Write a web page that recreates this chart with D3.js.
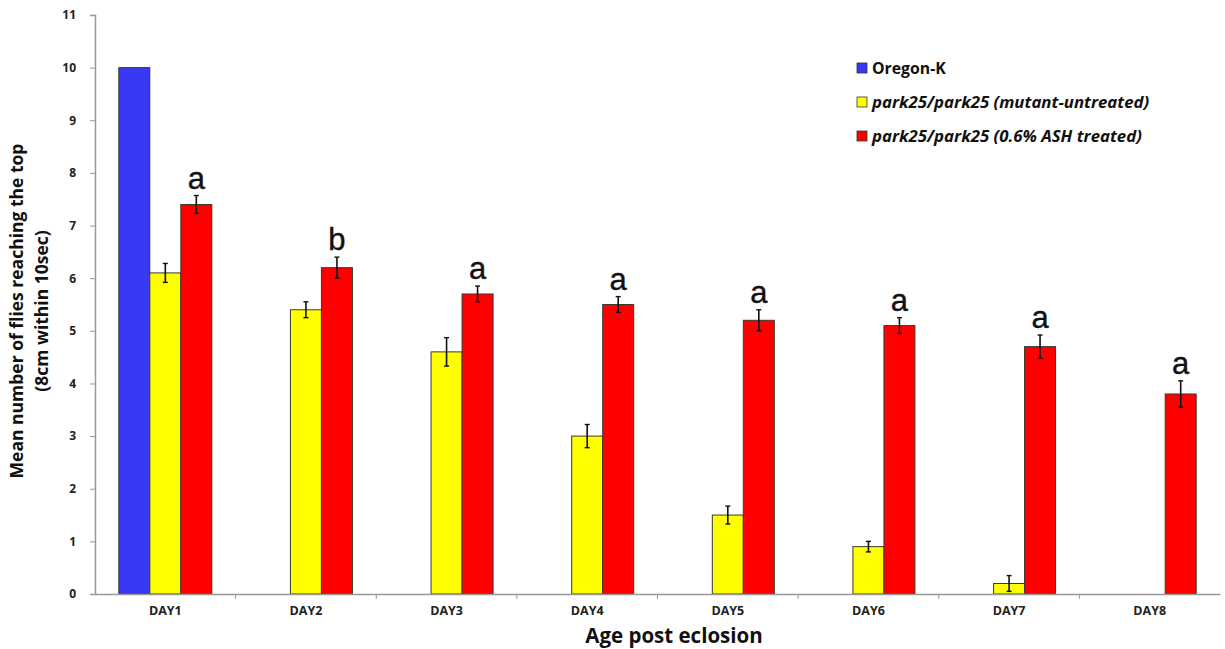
<!DOCTYPE html>
<html><head><meta charset="utf-8">
<script src="https://cdn.jsdelivr.net/npm/d3@7"></script>
<style>body{margin:0;background:#fff}svg{display:block}</style>
</head><body><svg id="c" width="1225" height="649"></svg>
<script>
const categories = ["DAY1","DAY2","DAY3","DAY4","DAY5","DAY6","DAY7","DAY8"];
const seriesNames = ["Oregon-K","park25/park25 (mutant-untreated)","park25/park25 (0.6% ASH treated)"];
const oregonK = [10, null, null, null, null, null, null, null];
const untreated = [6.1, 5.4, 4.6, 3.0, 1.5, 0.9, 0.2, null];
const untreatedErr = [0.18, 0.15, 0.27, 0.22, 0.17, 0.1, 0.15, null];
const treated = [7.4, 6.2, 5.7, 5.5, 5.2, 5.1, 4.7, 3.8];
const treatedErr = [0.17, 0.2, 0.15, 0.15, 0.2, 0.15, 0.22, 0.25];
const letters = ["a","b","a","a","a","a","a","a"];
const yTicks = [0,1,2,3,4,5,6,7,8,9,10,11];
const colors = ["#3838f5","#ffff00","#ff0000"];

const svg = d3.select("#c");
const m = {l:95, r:1220, t:15, b:594};
const x = d3.scaleBand().domain(categories).range([m.l, m.r]);
const y = d3.scaleLinear().domain([0,11]).range([m.b, m.t]);
const barW = 31;
const sub = d3.scaleBand().domain([0,1,2]).range([0, barW*3]);
const off = (x.bandwidth() - barW*3)/2;

const series = [
  {vals: oregonK, err: null},
  {vals: untreated, err: untreatedErr},
  {vals: treated, err: treatedErr}
];

series.forEach((s, si) => {
  const g = svg.append("g");
  categories.forEach((c, i) => {
    const v = s.vals[i];
    if (v == null) return;
    const bx = x(c) + off + sub(si);
    g.append("rect").attr("x", bx).attr("y", y(v)).attr("width", barW).attr("height", y(0)-y(v))
      .attr("fill", colors[si]).attr("stroke", "#3a3a2a").attr("stroke-width", 1);
    if (s.err && s.err[i] != null) {
      const cx = bx + barW/2, e = s.err[i];
      g.append("line").attr("x1",cx).attr("x2",cx).attr("y1",y(v+e)).attr("y2",y(v-e)).attr("stroke","#111").attr("stroke-width",1.6);
      [v+e, v-e].forEach(t => g.append("line").attr("x1",cx-2.5).attr("x2",cx+2.5).attr("y1",y(t)).attr("y2",y(t)).attr("stroke","#111").attr("stroke-width",1.4));
    }
    if (si === 2) {
      g.append("text").attr("x", bx + barW/2).attr("y", y(v + s.err[i]) - 7)
        .attr("text-anchor","middle").attr("font-family","Liberation Sans, Arial, sans-serif")
        .attr("font-size", 31).attr("stroke","#111").attr("stroke-width",0.4).attr("fill","#111").text(letters[i]);
    }
  });
});

// Y axis
const yAxis = svg.append("g").attr("transform",`translate(${m.l},0)`)
  .call(d3.axisLeft(y).tickValues(yTicks).tickSize(5).tickPadding(14));
yAxis.select(".domain").attr("stroke","#999").attr("stroke-width",1.5);
yAxis.selectAll(".tick line").attr("stroke","#999");
yAxis.selectAll("text").attr("font-family","Open Sans, sans-serif").attr("font-weight","bold").attr("font-size",12).attr("fill","#222");

// X axis
const xAxis = svg.append("g").attr("transform",`translate(0,${m.b})`)
  .call(d3.axisBottom(x).tickSize(0).tickPadding(12));
xAxis.select(".domain").attr("stroke","#999").attr("stroke-width",1.5);
xAxis.selectAll("text").attr("font-family","Open Sans, sans-serif").attr("font-weight","bold").attr("font-size",12.5).attr("fill","#222");
xAxis.selectAll(".bound").data(categories.slice(1)).enter().append("line")
  .attr("x1", d=>x(d)).attr("x2", d=>x(d)).attr("y1",0).attr("y2",5).attr("stroke","#999");

// Titles
const yt = svg.append("text").attr("transform","translate(23,311) rotate(-90)")
  .attr("text-anchor","middle").attr("font-family","Open Sans, sans-serif").attr("font-weight","bold").attr("font-size",17.5).attr("fill","#111");
yt.append("tspan").attr("x",0).attr("dy",0).text("Mean number of flies reaching the top");
yt.append("tspan").attr("x",0).attr("dy",25).text("(8cm within 10sec)");
svg.append("text").attr("x",674).attr("y",643).attr("text-anchor","middle")
  .attr("font-family","Open Sans, sans-serif").attr("font-weight","bold").attr("font-size",20.5).attr("fill","#111").text("Age post eclosion");

// Legend
const lg = svg.append("g");
seriesNames.forEach((n, i) => {
  const ly = 68 + i*34;
  lg.append("rect").attr("x",857).attr("y",ly-5).attr("width",10).attr("height",10).attr("fill",colors[i]).attr("stroke","#333").attr("stroke-width",0.8);
  lg.append("text").attr("x",872).attr("y",ly+5.5).attr("font-family","Open Sans, sans-serif").attr("font-weight","bold")
    .attr("font-style", i===0 ? "normal" : "italic").attr("font-size", i===0 ? 15.8 : 16.8).attr("fill","#111").text(n);
});
</script></body></html>
